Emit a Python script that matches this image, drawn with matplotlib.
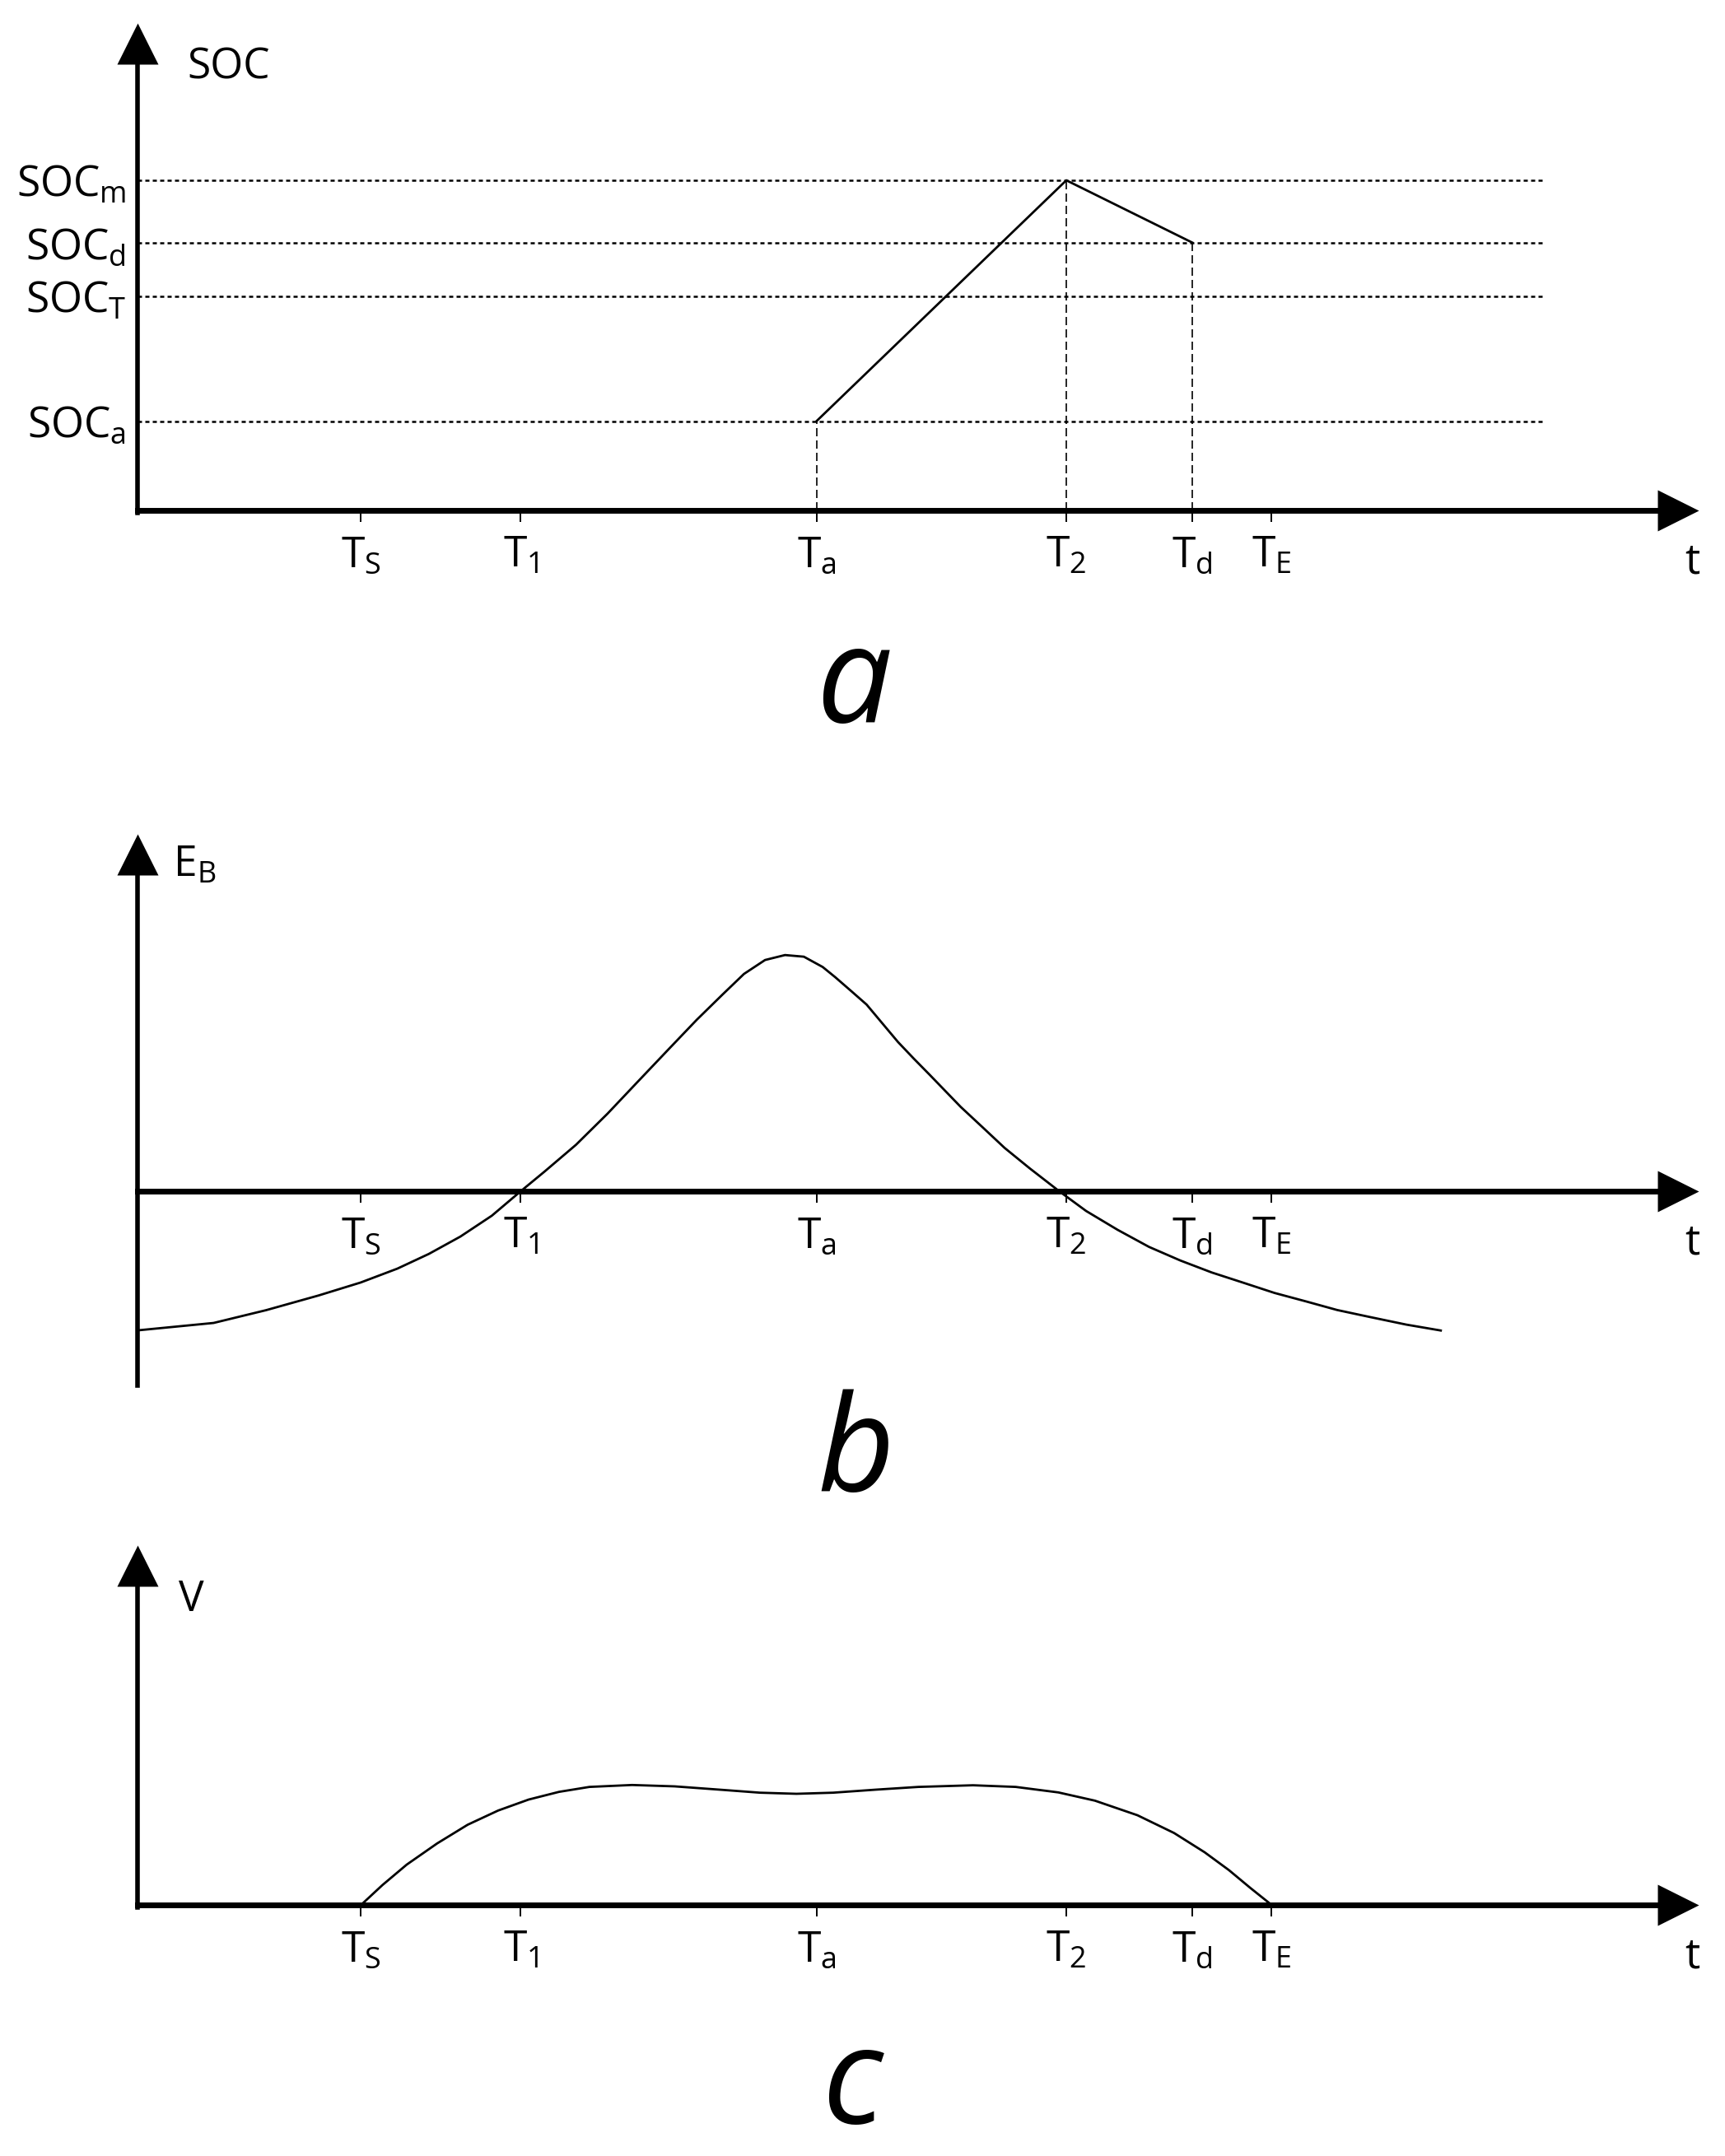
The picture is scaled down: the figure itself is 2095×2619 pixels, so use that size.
import matplotlib
matplotlib.use("Agg")
import matplotlib.pyplot as plt

plt.rcParams['font.family'] = ['Open Sans', 'DejaVu Sans']
plt.rcParams['mathtext.fontset'] = 'custom'
plt.rcParams['mathtext.rm'] = 'Open Sans'
plt.rcParams['mathtext.it'] = 'Open Sans:italic'
plt.rcParams['mathtext.default'] = 'regular'

# time marks (same for all three panels)
t_names = ['$T_S$', '$T_1$', '$T_a$', '$T_2$', '$T_d$', '$T_E$']
t_vals = [1.625, 2.785, 4.936, 6.752, 7.668, 8.244]

# panel a: SOC levels and charge/discharge path
soc_names = ['$SOC_m$', '$SOC_d$', '$SOC_T$', '$SOC_a$']
soc_vals = [2.40, 1.947, 1.558, 0.649]
soc_t = [4.936, 6.752, 7.668]
soc_y = [0.649, 2.40, 1.947]

# panel b: E_B curve
eb_t = [0.0, 0.553, 0.935, 1.317, 1.622, 1.889, 2.118, 2.347, 2.576, 2.786,
        2.958, 3.187, 3.417, 3.645, 3.874, 4.065, 4.256, 4.409, 4.562, 4.707,
        4.844, 4.981, 5.072, 5.186, 5.300, 5.414, 5.528, 5.642, 5.756, 5.984,
        6.144, 6.303, 6.486, 6.700, 6.896, 7.125, 7.353, 7.581, 7.809, 8.037,
        8.266, 8.493, 8.721, 8.950, 9.223, 9.474]
eb_y = [-1.012, -0.958, -0.865, -0.758, -0.664, -0.563, -0.456, -0.330, -0.178, 0.0,
        0.142, 0.337, 0.564, 0.805, 1.046, 1.246, 1.433, 1.580, 1.681, 1.717,
        1.705, 1.630, 1.556, 1.457, 1.357, 1.221, 1.085, 0.965, 0.849, 0.613,
        0.464, 0.315, 0.166, 0.0, -0.144, -0.281, -0.405, -0.504, -0.591, -0.665,
        -0.740, -0.801, -0.864, -0.913, -0.970, -1.013]

# panel c: V curve
v_t = [1.625, 1.780, 1.957, 2.178, 2.400, 2.621, 2.843, 3.064, 3.285, 3.595,
       3.905, 4.259, 4.525, 4.790, 5.056, 5.366, 5.676, 6.074, 6.384, 6.694,
       6.960, 7.269, 7.535, 7.757, 7.934, 8.089, 8.244]
v_y = [0.0, 0.144, 0.293, 0.447, 0.583, 0.686, 0.766, 0.822, 0.858, 0.872,
       0.862, 0.836, 0.816, 0.808, 0.816, 0.838, 0.858, 0.870, 0.858, 0.818,
       0.758, 0.652, 0.523, 0.383, 0.253, 0.124, 0.0]

W, H = 2095, 2619
S = 167.07      # px per data unit
X0 = 167        # px column of the y axis

fig = plt.figure(figsize=(W / 100, H / 100), dpi=100)

up_arrow = [(0, 0), (-0.5, -1), (0.5, -1)]
right_arrow = [(0, 0), (-1, 0.5), (-1, -0.5)]


def make_panel(origin_row, ylo, yhi, ybot, ytop, ylab, ylab_pos):
    xlo, xhi = -1.0, 11.5
    left = (X0 + xlo * S) / W
    width = (xhi - xlo) * S / W
    bottom = (H - (origin_row - ylo * S)) / H
    height = (yhi - ylo) * S / H
    ax = fig.add_axes([left, bottom, width, height])
    ax.set_xlim(xlo, xhi)
    ax.set_ylim(ylo, yhi)
    ax.patch.set_alpha(0)
    for s in ['top', 'right']:
        ax.spines[s].set_visible(False)
    ax.spines['left'].set_position(('data', 0))
    ax.spines['bottom'].set_position(('data', 0))
    ax.spines['left'].set_bounds(ybot, ytop - 0.2)
    ax.spines['bottom'].set_bounds(0, 11.1)
    ax.spines['left'].set_linewidth(4.0)
    ax.spines['bottom'].set_linewidth(5.0)
    ax.plot([0], [ytop], marker=up_arrow, ms=72, color='k', mew=0, clip_on=False)
    ax.plot([11.35], [0], marker=right_arrow, ms=72, color='k', mew=0, clip_on=False)
    ax.set_xticks(t_vals, t_names)
    ax.tick_params(axis='x', direction='out', length=10, width=1.4, pad=11,
                   labelsize=37)
    ax.set_yticks([])
    ax.text(11.30, -0.38, 't', ha='center', va='center', fontsize=37)
    ax.text(ylab_pos[0], ylab_pos[1], ylab, ha='left', va='center', fontsize=37)
    return ax


# ---- panel a
ax = make_panel(620, -0.9, 3.7, -0.02, 3.545, 'SOC', (0.36, 3.22))
ax.set_yticks(soc_vals, soc_names)
ax.tick_params(axis='y', length=0, pad=10, labelsize=37)
ax.hlines(soc_vals, 0, 10.23, colors='k', linestyles=(0, (2.0, 1.6)), lw=1.8)
ax.vlines(soc_t, 0, soc_y, colors='k', linestyles=(0, (6, 3)), lw=1.2)
ax.plot(soc_t, soc_y, color='k', lw=2.0)

# ---- panel b
ax = make_panel(1447, -1.6, 2.75, -1.414, 2.595, '$E_B$', (0.255, 2.37))
ax.plot(eb_t, eb_y, color='k', lw=2.0)

# ---- panel c
ax = make_panel(2314, -0.8, 2.75, -0.02, 2.616, 'V', (0.30, 2.22))
ax.plot(v_t, v_y, color='k', lw=2.0)

# panel letters (c sits a little higher so its box stays inside the figure)
for letter, row in [('a', 877), ('b', 1811), ('c', 2579)]:
    fig.text(1036 / W, 1 - row / H, r'$\mathit{%s}$' % letter, ha='center',
             va='baseline', fontsize=117)

fig.savefig('out.png', dpi=100)
